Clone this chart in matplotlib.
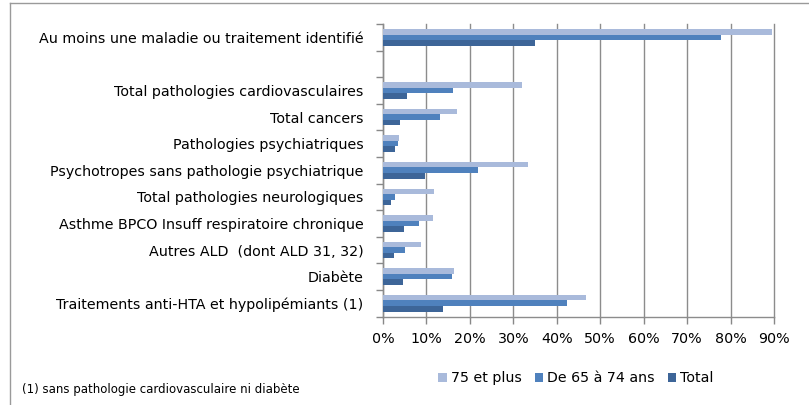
import numpy as np
import matplotlib
matplotlib.use("Agg")
import matplotlib.pyplot as plt
from matplotlib.lines import Line2D

plt.rcParams['font.family'] = ['DejaVu Sans']

categories = [
    "Au moins une maladie ou traitement identifié",
    "",
    "Total pathologies cardiovasculaires",
    "Total cancers",
    "Pathologies psychiatriques",
    "Psychotropes sans pathologie psychiatrique",
    "Total pathologies neurologiques",
    "Asthme BPCO Insuff respiratoire chronique",
    "Autres ALD  (dont ALD 31, 32)",
    "Diabète",
    "Traitements anti-HTA et hypolipémiants (1)",
]
series_names = ["75 et plus", "De 65 à 74 ans", "Total"]
v75 = [89.6, np.nan, 31.9, 17.0, 3.6, 33.4, 11.7, 11.5, 8.7, 16.4, 46.7]
v65 = [77.7, np.nan, 16.0, 13.2, 3.4, 21.8, 2.7, 8.4, 5.1, 15.8, 42.4]
vtot = [35.1, np.nan, 5.6, 4.0, 2.8, 9.7, 1.8, 4.8, 2.5, 4.7, 13.9]
colors = ["#A9BADB", "#4F81BD", "#3D6598"]
footnote = "(1) sans pathologie cardiovasculaire ni diabète"

fig = plt.figure(figsize=(8.09, 4.05), dpi=100)
ax = fig.add_axes([383/809, 1-316.5/405, 391/809, 292.5/405])

n = len(categories)
y = np.arange(n)
h = 0.208
for k, (vals, col) in enumerate(zip([v75, v65, vtot], colors)):
    ax.barh(y + (k - 1) * h, vals, height=h, color=col, edgecolor="none",
            label=series_names[k], zorder=3)

ax.set_xlim(0, 90)
ax.set_ylim(n - 0.5, -0.5)
ax.set_xticks(np.arange(0, 91, 10))
ax.set_xticklabels([f"{t}%" for t in range(0, 91, 10)], fontsize=10.3)
ax.set_yticks(y)
ax.set_yticklabels(categories, fontsize=10.3)
ax.set_yticks(np.arange(-0.5, n, 1.0), minor=True)
ax.tick_params(axis='y', which='major', length=0, pad=14)
ax.tick_params(axis='y', which='minor', length=5, color="#888888", width=1)
ax.tick_params(axis='x', which='major', length=5, color="#888888", width=1, pad=6)
ax.grid(axis='x', color="#8C8C8C", linewidth=1, zorder=0)
for line in ax.get_xgridlines():
    line.set_clip_on(False)
for s in ['top', 'right']:
    ax.spines[s].set_visible(False)
for s in ['left', 'bottom']:
    ax.spines[s].set_color("#8C8C8C")
    ax.spines[s].set_linewidth(1)

fig.legend(loc='center', bbox_to_anchor=(576/809, 1-378/405), ncol=3, frameon=False,
           fontsize=10.2, handlelength=0.6, handleheight=0.6, handletextpad=0.3,
           columnspacing=0.9)
fig.text(22/809, 1-389/405, footnote, fontsize=8.5, va='center', ha='left')

# outer frame
fig.add_artist(Line2D([10/809, 1], [1-3/405, 1-3/405], color="#9A9A9A", lw=1, transform=fig.transFigure))
fig.add_artist(Line2D([10/809, 10/809], [0, 1-3/405], color="#9A9A9A", lw=1, transform=fig.transFigure))

fig.savefig("out.png", dpi=100)
